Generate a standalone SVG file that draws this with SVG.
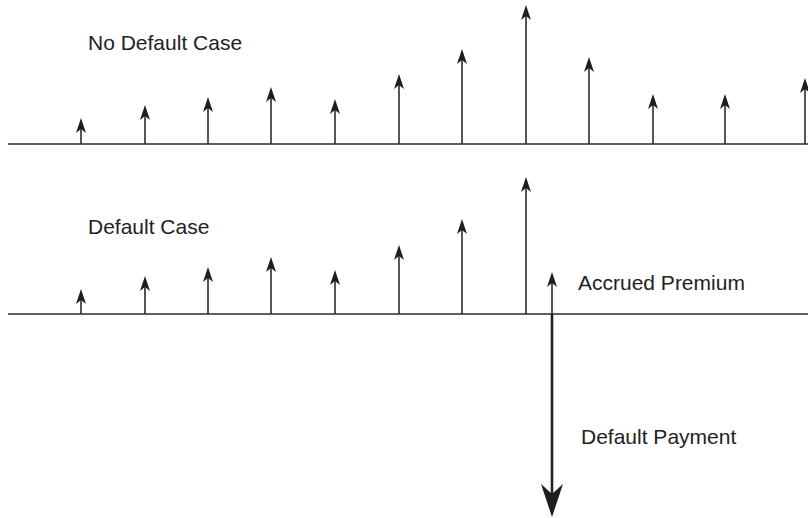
<svg xmlns="http://www.w3.org/2000/svg" width="808" height="518" viewBox="0 0 808 518">
<style>
.axis{stroke:#2b2b2b;stroke-width:1.6;fill:none}
.flow{stroke:#2b2b2b;stroke-width:1.6;fill:none;marker-end:url(#ah)}
.big{stroke:#222;stroke-width:2.6;fill:none}
.lbl{font-family:"Liberation Sans",Arial,sans-serif;font-size:21px;fill:#222}
</style>
<defs>
<marker id="ah" markerUnits="userSpaceOnUse" markerWidth="15" markerHeight="10" viewBox="0 0 15 10" refX="5" refY="5" orient="auto">
<path d="M0,0 L15,5 L0,10 L4,5 Z" fill="#1e1e1e"/>
</marker>
</defs>
<rect width="808" height="518" fill="#fff"/>
<g id="no-default">
<text class="lbl" x="88" y="50">No Default Case</text>
<line class="axis" x1="8" y1="144" x2="808" y2="144"/>
</g>
<g id="default">
<text class="lbl" x="88" y="234">Default Case</text>
<line class="axis" x1="8" y1="314" x2="808" y2="314"/>
</g>
<g id="accrued-label"><text class="lbl" x="578" y="290">Accrued Premium</text></g>
<g id="payment-label"><text class="lbl" x="581" y="444">Default Payment</text></g>
<g id="connectors">
<line class="flow" x1="81" y1="144" x2="81" y2="128"/>
<line class="flow" x1="145" y1="144" x2="145" y2="115"/>
<line class="flow" x1="208" y1="144" x2="208" y2="107"/>
<line class="flow" x1="271" y1="144" x2="271" y2="97"/>
<line class="flow" x1="335" y1="144" x2="335" y2="109"/>
<line class="flow" x1="399" y1="144" x2="399" y2="84"/>
<line class="flow" x1="462" y1="144" x2="462" y2="59"/>
<line class="flow" x1="526" y1="144" x2="526" y2="15"/>
<line class="flow" x1="589" y1="144" x2="589" y2="67"/>
<line class="flow" x1="653" y1="144" x2="653" y2="104"/>
<line class="flow" x1="725" y1="144" x2="725" y2="104"/>
<line class="flow" x1="805" y1="144" x2="805" y2="88"/>
<line class="flow" x1="81" y1="314" x2="81" y2="299"/>
<line class="flow" x1="145" y1="314" x2="145" y2="286"/>
<line class="flow" x1="208" y1="314" x2="208" y2="277"/>
<line class="flow" x1="271" y1="314" x2="271" y2="267"/>
<line class="flow" x1="335" y1="314" x2="335" y2="280"/>
<line class="flow" x1="399" y1="314" x2="399" y2="255"/>
<line class="flow" x1="462" y1="314" x2="462" y2="229"/>
<line class="flow" x1="526" y1="314" x2="526" y2="187"/>
<line class="flow" x1="552" y1="314" x2="552" y2="282"/>
<line class="big" x1="552" y1="314" x2="552" y2="494"/>
<path d="M552,517 L541,484 L552,494 L563,484 Z" fill="#1e1e1e"/>
</g>
</svg>
